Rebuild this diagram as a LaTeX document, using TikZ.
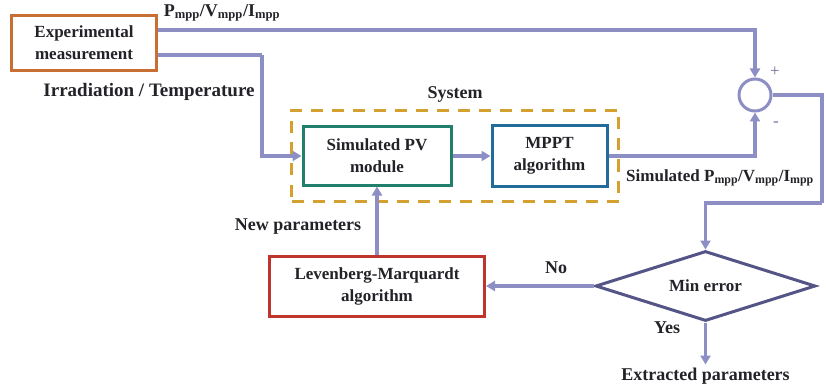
\documentclass[tikz,border=0pt]{standalone}
\usepackage{fontspec}
\setmainfont{Liberation Serif}
\usepackage{xcolor}
\usepackage{tikz}
\usetikzlibrary{shapes.geometric, arrows.meta, positioning, fit, backgrounds, calc}
\definecolor{linkblue}{RGB}{140,142,196}
\definecolor{expOrange}{RGB}{200,112,52}
\definecolor{pvTeal}{RGB}{32,128,108}
\definecolor{mpptBlue}{RGB}{34,108,156}
\definecolor{lmRed}{RGB}{192,52,46}
\definecolor{zoneGold}{RGB}{212,160,48}
\definecolor{decSlate}{RGB}{84,84,134}
\definecolor{inkdark}{RGB}{34,34,40}
\tikzset{
	block/.style={rectangle, draw, fill=white, line width=3pt, align=center, text=inkdark, font=\bfseries\fontsize{17}{22}\selectfont, inner sep=2pt},
	exp_box/.style={block, draw=expOrange, minimum width=145pt, minimum height=55pt},
	pv_box/.style={block, draw=pvTeal, minimum width=148pt, minimum height=58pt},
	mppt_box/.style={block, draw=mpptBlue, minimum width=115pt, minimum height=60pt},
	lm_box/.style={block, draw=lmRed, minimum width=215pt, minimum height=60pt},
	decision/.style={diamond, aspect=3, draw=decSlate, fill=white, line width=3pt, text=inkdark, font=\bfseries\fontsize{17}{22}\selectfont, minimum width=220pt, minimum height=70pt, inner sep=0pt},
	sum_node/.style={circle, draw=linkblue, fill=white, line width=3pt, minimum size=32pt, inner sep=0pt},
	system_zone/.style={draw=zoneGold, line width=2.5pt, dash pattern=on 12pt off 9pt},
	link/.style={draw=linkblue, line width=3.5pt, -{Triangle[length=9pt, width=10pt]}},
	link_plain/.style={draw=linkblue, line width=3.5pt},
	lbl/.style={text=inkdark, font=\bfseries\fontsize{18}{20}\selectfont, inner sep=1pt},
	sign/.style={text=linkblue!80!black, font=\fontsize{17}{18}\selectfont, inner sep=0pt}
}

\begin{document}
\begin{tikzpicture}[x=1pt, y=-1pt, node distance=38pt, >=latex]
	\useasboundingbox (0,0) rectangle (826,390);
	\node[exp_box] (exp) at (84,43) {Experimental\\measurement};
	\node[pv_box] (pv) at (377,156) {Simulated PV\\module};
	\node[mppt_box, right=38pt of pv] (mppt) {MPPT\\algorithm};
	\node[lm_box, below=68pt of pv] (lm) {Levenberg-Marquardt\\algorithm};
	\node[decision, right=108pt of lm] (dec) {Min error};
	\node[sum_node] (sum) at (755,95) {};
	\coordinate (bend_in) at (262,55);
	\coordinate (loop_r) at (822,95);
	\coordinate (loop_b) at (822,203);
	\coordinate[below=42pt of dec.south] (out);
	\begin{pgfonlayer}{background}
		\node[system_zone, fit=(pv) (mppt), inner xsep=10pt, inner ysep=14pt] (zone) {};
	\end{pgfonlayer}
	% measured and simulated values into the comparator
	\draw[link] ([yshift=13pt]exp.east) -| (sum.north);
	\draw[link] (mppt.east) -| (sum.south);
	% weather data into the model
	\draw[link_plain] ([yshift=-12pt]exp.east) -- (bend_in);
	\draw[link] (bend_in) |- (pv.west);
	\draw[link] (pv) -- (mppt);
	% error loop
	\draw[link_plain] (sum.east) -- (loop_r) -- (loop_b);
	\draw[link] (loop_b) -| (dec.north);
	\draw[link] (dec.west) -- (lm.east);
	\draw[link] (lm.north) -- (pv.south);
	\draw[link] (dec.south) -- (out);
	% labels
	\node[lbl] at (222,13) {P\textsubscript{mpp}/V\textsubscript{mpp}/I\textsubscript{mpp}};
	\node[lbl, font=\bfseries\fontsize{19}{20}\selectfont] at (149,92) {Irradiation / Temperature};
	\node[lbl, above=6pt of zone] {System};
	\node[lbl, font=\bfseries\fontsize{17}{20}\selectfont] at (720,178) {Simulated P\textsubscript{mpp}/V\textsubscript{mpp}/I\textsubscript{mpp}};
	\node[lbl] at (298,227) {New parameters};
	\node[lbl] at (556,268) {No};
	\node[lbl] at (667,328) {Yes};
	\node[lbl, below=2pt of out] {Extracted parameters};
	\node[sign] at (775,72) {+};
	\node[sign] at (776,124) {-};
\end{tikzpicture}
\end{document}
